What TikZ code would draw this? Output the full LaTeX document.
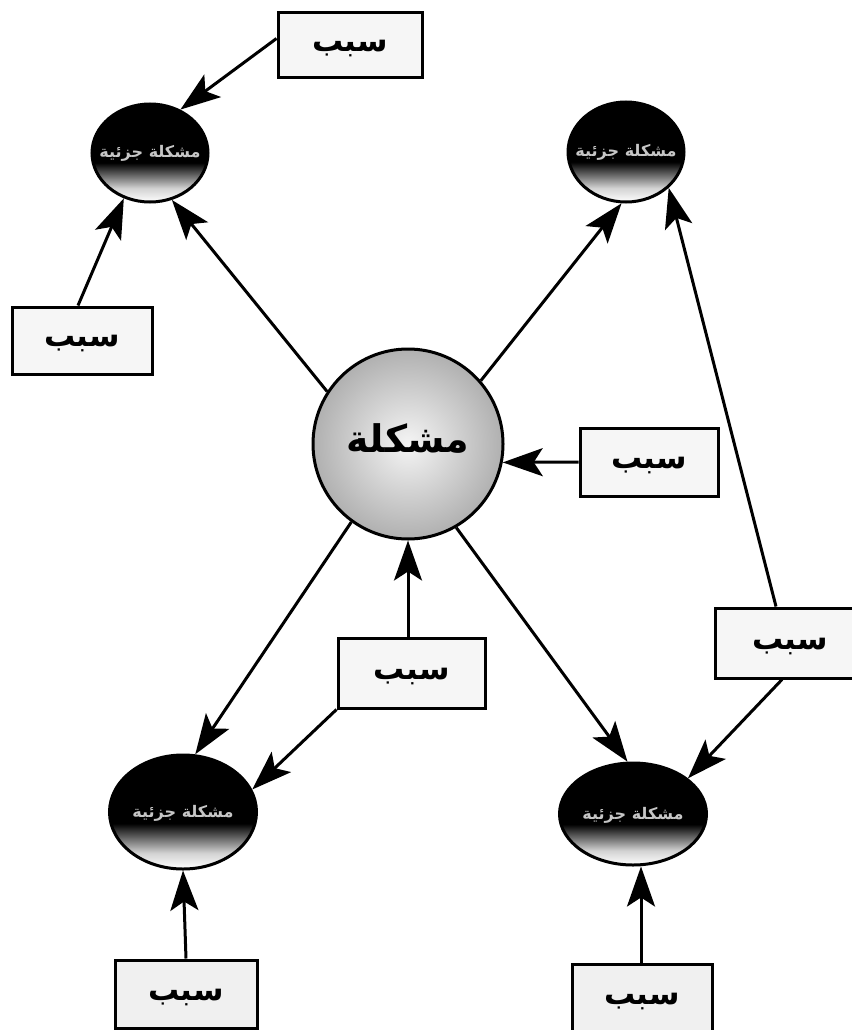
\documentclass[tikz,border=0pt]{standalone}
\usepackage{fontspec}
\newfontfamily\arabicfont[Script=Arabic]{DejaVu Sans}
\TeXXeTstate=1
\usetikzlibrary{shapes.geometric,arrows.meta}
\pgfdeclareverticalshading{ellshade}{100bp}{color(0bp)=(white); color(25bp)=(white); color(32bp)=(gray!35); color(45bp)=(black); color(100bp)=(black)}
\newcommand{\sabab}{\raisebox{-6pt}[0pt][0pt]{\beginR سبب\endR}}
\newcommand{\partprob}{\makebox[0pt]{\raisebox{-5pt}[0pt][0pt]{\beginR مشكلة جزئية\endR}}}
\tikzset{
  causebox/.style={draw, line width=3pt, fill=gray!7, inner sep=0pt,
    font=\arabicfont\bfseries\fontsize{31}{34}\selectfont},
  effect/.style={ellipse, draw, line width=3pt, shading=ellshade, inner sep=0pt,
    font=\arabicfont\bfseries\fontsize{16}{19}\selectfont, text=gray!45},
  core/.style={circle, draw, line width=3pt, inner color=gray!8, outer color=gray!62, minimum size=190pt, inner sep=0pt,
    font=\arabicfont\bfseries\fontsize{38}{42}\selectfont},
  arr/.style={line width=3pt, -{Stealth[length=40pt,width=28pt,inset=9pt]}}
}
\begin{document}
\begin{tikzpicture}[x=1pt,y=-1pt]
\useasboundingbox[fill=white] (0,0) rectangle (851,1030);
% central problem
\node[core] (c) at (408,444) {\raisebox{-8pt}[0pt][0pt]{\beginR مشكلة\endR}};
% effects
\node[effect, minimum width=116pt, minimum height=98pt] (tl) at (150,153) {\partprob};
\node[effect, minimum width=116pt, minimum height=100pt] (tr) at (626,152) {\partprob};
\node[effect, minimum width=147pt, minimum height=114pt] (bl) at (183,812) {\partprob};
\node[effect, minimum width=147pt, minimum height=102pt] (br) at (633,814) {\partprob};
% causes
\node[causebox, minimum width=144pt, minimum height=65pt] (tb) at (350,45.5) {\sabab};
\node[causebox, minimum width=140pt, minimum height=67pt] (lb) at (82,340.5) {\sabab};
\node[causebox, minimum width=138pt, minimum height=68pt] (rm) at (649,462) {\sabab};
\node[causebox, minimum width=147pt, minimum height=70pt] (cb) at (411.5,673) {\sabab};
\node[causebox, minimum width=150pt, minimum height=70pt] (rb) at (790,643) {\sabab};
\node[causebox, minimum width=142pt, minimum height=68pt, fill=gray!12] (blb) at (186,994) {\sabab};
\node[causebox, minimum width=140pt, minimum height=68pt, fill=gray!12] (brb) at (642,998) {\sabab};
% connectors
\draw[arr] ([yshift=7pt]tb.west) -- (tl.55);
\draw[arr] ([xshift=-4pt]lb.north) -- (tl.240);
\draw[arr] (c.147) -- (tl.295);
\draw[arr] (c.41) -- (tr.265);
\draw[arr] (rm.west) -- (c.-11.5);
\draw[arr] (c.234) -- (bl.78);
\draw[arr] (c.300) -- (br.96);
\draw[arr] (c.south |- cb.north) -- (c.south);
\draw[arr] (cb.south west) -- (bl.18);
\draw[arr] ([xshift=-14pt]rb.north) -- (tr.-40);
\draw[arr] ([xshift=-8pt]rb.south) -- (br.33);
\draw[arr] (blb.north) -- (bl.south);
\draw[arr] ([xshift=-1pt]brb.north) -- ([xshift=-1pt]brb.north |- br.south);
\end{tikzpicture}
\end{document}
